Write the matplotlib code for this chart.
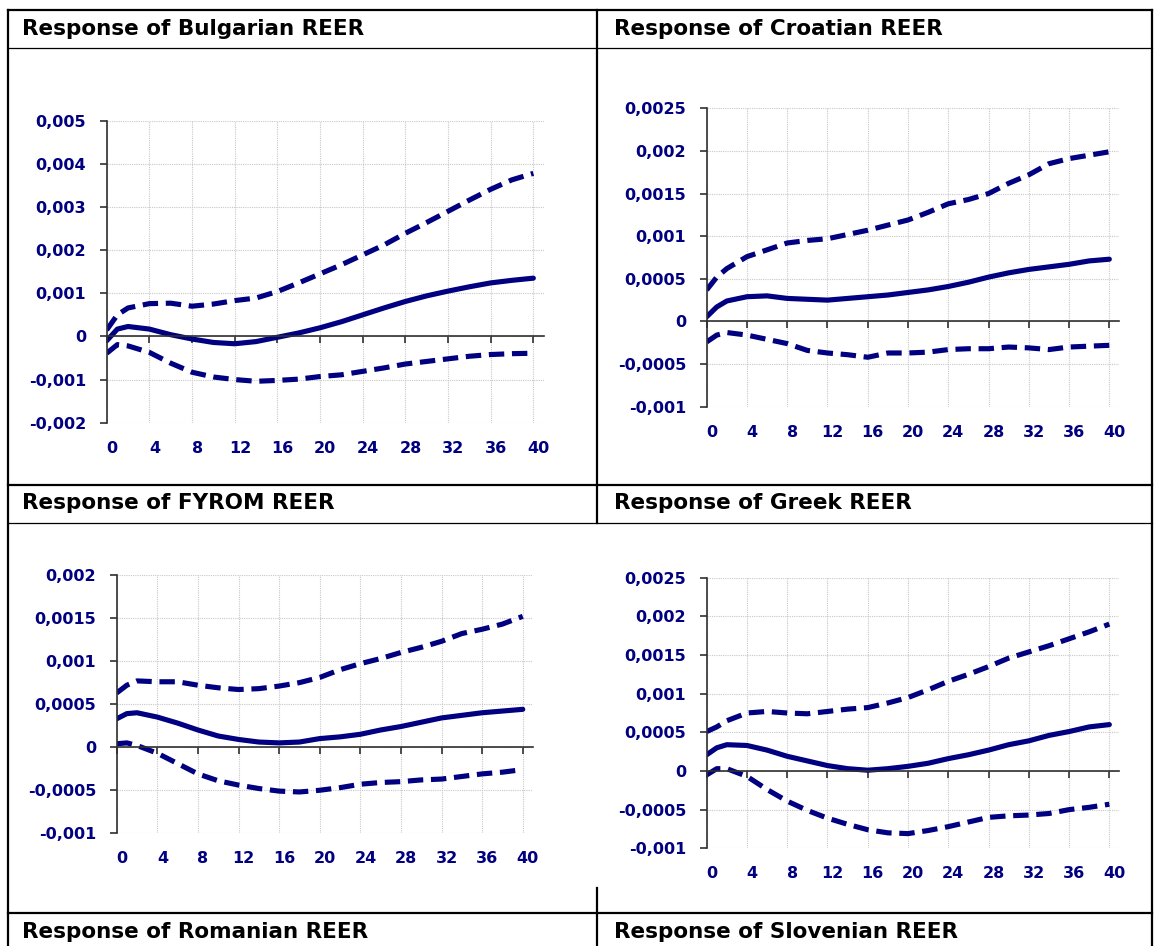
import numpy as np
import matplotlib
matplotlib.use("Agg")
import matplotlib.pyplot as plt
from matplotlib.lines import Line2D

# horizons (quarters after the shock)
horizon = [0, 1, 2, 4, 6, 8, 10, 12, 14, 16, 18, 20, 22, 24, 26, 28, 30, 32, 34, 36, 38, 40]

bg_irf = [-0.0001, 0.00017, 0.00023, 0.00017, 0.00004, -0.00006, -0.00014, -0.00017, -0.00012, -0.00002, 0.00008,
          0.0002, 0.00034, 0.0005, 0.00066, 0.00081, 0.00094, 0.00105, 0.00115, 0.00124, 0.0013, 0.00135]
bg_hi = [0.00015, 0.0005, 0.00066, 0.00076, 0.00077, 0.0007, 0.00075, 0.00083, 0.00089, 0.00104, 0.00124,
         0.00145, 0.00166, 0.00189, 0.00212, 0.00239, 0.00264, 0.0029, 0.00316, 0.00341, 0.00363, 0.00378]
bg_lo = [-0.00039, -0.00019, -0.00022, -0.00037, -0.00062, -0.00083, -0.00094, -0.001, -0.00104, -0.00102, -0.00099,
         -0.00093, -0.00089, -0.00081, -0.00073, -0.00064, -0.00058, -0.00052, -0.00046, -0.00042, -0.0004, -0.00039]

hr_irf = [0.000055, 0.00017, 0.00024, 0.00029, 0.0003, 0.00027, 0.00026, 0.00025, 0.00027, 0.00029, 0.00031,
          0.00034, 0.00037, 0.00041, 0.00046, 0.00052, 0.00057, 0.00061, 0.00064, 0.00067, 0.00071, 0.00073]
hr_hi = [0.00037, 0.00052, 0.00062, 0.00076, 0.00084, 0.00092, 0.00095, 0.00097, 0.00102, 0.00107, 0.00113,
         0.00119, 0.00128, 0.00138, 0.00143, 0.0015, 0.00162, 0.00172, 0.00185, 0.00191, 0.00195, 0.00199]
hr_lo = [-0.00024, -0.00016, -0.00013, -0.00016, -0.00021, -0.00026, -0.00034, -0.00037, -0.00039, -0.00042, -0.00037,
         -0.00037, -0.00036, -0.00033, -0.00032, -0.00032, -0.0003, -0.00031, -0.00033, -0.0003, -0.00029, -0.00028]

mk_irf = [0.00033, 0.00039, 0.0004, 0.00035, 0.00028, 0.0002, 0.00013, 0.00009, 0.00006, 0.00005, 0.00006,
          0.0001, 0.00012, 0.00015, 0.0002, 0.00024, 0.00029, 0.00034, 0.00037, 0.0004, 0.00042, 0.00044]
mk_hi = [0.00063, 0.00072, 0.00077, 0.00076, 0.00076, 0.00072, 0.00069, 0.00067, 0.00068, 0.00071, 0.00075,
         0.00081, 0.0009, 0.00097, 0.00103, 0.0011, 0.00116, 0.00123, 0.00132, 0.00137, 0.00143, 0.00152]
mk_lo = [0.00004, 0.00005, 0.00002, -0.00007, -0.00019, -0.00031, -0.00039, -0.00044, -0.00048, -0.00051, -0.00052,
         -0.0005, -0.00047, -0.00043, -0.00041, -0.0004, -0.00038, -0.00037, -0.00034, -0.00031, -0.00029, -0.00026]

gr_irf = [0.00021, 0.0003, 0.00034, 0.00033, 0.00027, 0.00019, 0.00013, 0.00007, 0.00003, 0.00001, 0.00003,
          0.00006, 0.0001, 0.00016, 0.00021, 0.00027, 0.00034, 0.00039, 0.00046, 0.00051, 0.00057, 0.0006]
gr_hi = [0.00051, 0.00057, 0.00065, 0.00075, 0.00077, 0.00075, 0.00074, 0.00077, 0.0008, 0.00082, 0.00088,
         0.00095, 0.00105, 0.00116, 0.00125, 0.00135, 0.00146, 0.00154, 0.00162, 0.00171, 0.0018, 0.0019]
gr_lo = [-0.00005, 0.00003, 0.00003, -0.00007, -0.00024, -0.00039, -0.00051, -0.00061, -0.00069, -0.00076, -0.0008,
         -0.00081, -0.00077, -0.00072, -0.00066, -0.0006, -0.00058, -0.00057, -0.00055, -0.0005, -0.00047, -0.00043]

x_ticks = [0, 4, 8, 12, 16, 20, 24, 28, 32, 36, 40]
bg_yticks = [-0.002, -0.001, 0, 0.001, 0.002, 0.003, 0.004, 0.005]
hr_yticks = [-0.001, -0.0005, 0, 0.0005, 0.001, 0.0015, 0.002, 0.0025]
mk_yticks = [-0.001, -0.0005, 0, 0.0005, 0.001, 0.0015, 0.002]
gr_yticks = [-0.001, -0.0005, 0, 0.0005, 0.001, 0.0015, 0.002, 0.0025]

titles = ["Response of Bulgarian REER", "Response of Croatian REER",
          "Response of FYROM REER", "Response of Greek REER",
          "Response of Romanian REER", "Response of Slovenian REER"]

W, H = 1156, 946
NAVY = "#000080"
AXIS = "#303030"
fig = plt.figure(figsize=(W / 100, H / 100), dpi=100)


def px(x, y):
    return x / W, 1 - y / H


def hline(y, x0, x1, lw):
    a, b = px(x0, y)
    c, _ = px(x1, y)
    fig.add_artist(Line2D([a, c], [b, b], transform=fig.transFigure, color="black", lw=lw))


def vline(x, y0, y1, lw):
    a, b = px(x, y0)
    _, d = px(x, y1)
    fig.add_artist(Line2D([a, a], [b, d], transform=fig.transFigure, color="black", lw=lw))


# table borders
for y in (10, 485, 913):
    hline(y, 8, 1152, 1.6)
for y in (48, 523):
    hline(y, 8, 1152, 0.9)
vline(8, 10, 946, 1.6)
vline(1152, 10, 946, 1.6)
vline(597, 10, 523, 1.6)
vline(597, 888, 946, 1.6)

# cell headings
for i, t in enumerate(titles):
    x = 22 if i % 2 == 0 else 614
    y = (29, 503, 932)[i // 2]
    fx, fy = px(x, y)
    fig.text(fx, fy, t, fontsize=15.5, fontweight="bold", family="DejaVu Sans",
             ha="left", va="center", color="black")

TICK_FONT = dict(fontsize=11.5, fontweight="bold", fontfamily="DejaVu Sans", color=NAVY)


def fmt(v):
    if abs(v) < 1e-12:
        return "0"
    return f"{v:g}".replace(".", ",")


def panel(box, irf, hi, lo, yticks):
    x0, y0, x1, y1 = box
    l, t = px(x0, y0)
    r, b = px(x1, y1)
    ax = fig.add_axes([l, b, r - l, t - b])
    ax.set_xlim(0, 41)
    ax.set_ylim(yticks[0], yticks[-1])
    ax.set_yticks(yticks, labels=[fmt(v) for v in yticks], **TICK_FONT)
    ax.set_xticks(x_ticks)
    ax.grid(True, color="#c8c8c8", ls=(0, (1, 1)), lw=0.8)
    ax.set_axisbelow(True)
    for s in ("top", "right"):
        ax.spines[s].set_visible(False)
    ax.spines["left"].set_color(AXIS)
    ax.spines["left"].set_linewidth(1.2)
    ax.spines["bottom"].set_position(("data", 0))
    ax.spines["bottom"].set_color(AXIS)
    ax.spines["bottom"].set_linewidth(1.2)
    ax.tick_params(axis="x", direction="out", length=5, width=1.2, color=AXIS, labelbottom=False)
    ax.tick_params(axis="y", direction="out", length=4.7, width=1.2, color=AXIS, pad=10)

    # category labels sit below the plot, not on the zero line
    sec = ax.secondary_xaxis(0)
    sec.set_xticks([v + 0.5 for v in x_ticks], labels=[str(v) for v in x_ticks], **TICK_FONT)
    sec.tick_params(length=0, pad=13)
    sec.spines["bottom"].set_visible(False)

    ax.plot(horizon, irf, color=NAVY, lw=3.7, solid_capstyle="round", solid_joinstyle="round")
    for band in (hi, lo):
        ax.plot(horizon, band, color=NAVY, lw=3.7, ls=(0, (3.0, 1.5)), solid_joinstyle="round")
    return ax


panel((106.7, 120.7, 544, 422.7), bg_irf, bg_hi, bg_lo, bg_yticks)
panel((706.7, 108.3, 1119.4, 406.7), hr_irf, hr_hi, hr_lo, hr_yticks)
panel((116.7, 575, 532.9, 833.3), mk_irf, mk_hi, mk_lo, mk_yticks)
panel((706.7, 577.7, 1119.4, 848.3), gr_irf, gr_hi, gr_lo, gr_yticks)

fig.savefig("out.png", dpi=100, facecolor="white")
